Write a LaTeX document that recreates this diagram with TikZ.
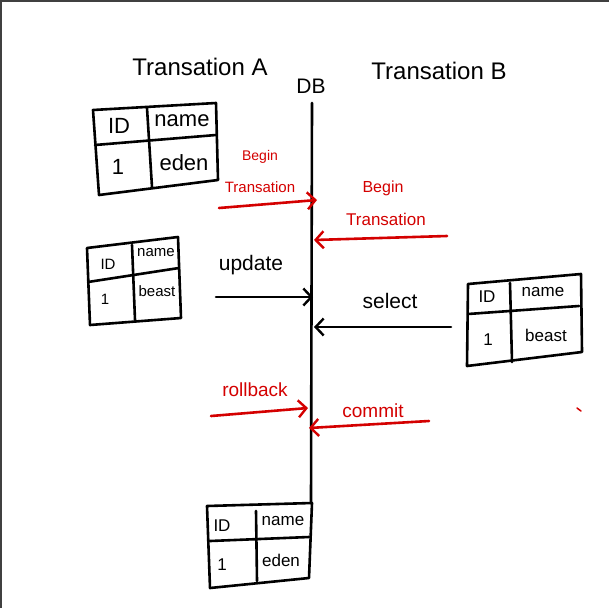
\documentclass[tikz,border=0pt]{standalone}
\usepackage{fontspec}
\setmainfont{Liberation Sans}
\usetikzlibrary{arrows.meta}
\definecolor{pen}{HTML}{D40000}
\tikzset{
  ink/.style={line width=2.6pt, line cap=round, line join=round},
  redink/.style={ink, draw=pen},
  arr/.style={-{Straight Barb[length=8pt,width=17pt,line width=2.4pt]}},
  lbl/.style={inner sep=0pt, anchor=center},
  redlbl/.style={lbl, text=pen},
  tbl/.style={ink}
}
\begin{document}
\begin{tikzpicture}[x=1pt,y=-1pt]
\useasboundingbox (0,0) rectangle (609,608);
\fill[white] (0,0) rectangle (609,608);
\draw[line width=1.5pt, draw=black!75] (0.75,608) -- (0.75,0.75) -- (609,0.75);

% headers
\node[lbl, font=\fontsize{24}{26}\selectfont] (ta) at (200,67) {Transation A};
\node[lbl, font=\fontsize{21}{23}\selectfont] (db) at (311,86) {DB};
\node[lbl, font=\fontsize{24}{26}\selectfont] (tb) at (439,71) {Transation B};

% DB line
\coordinate (dbtop) at (312,103);
\coordinate (dbbot) at (311,502);
\draw[ink] (dbtop) -- (dbbot);

% table 1
\draw[tbl] (93,110) -- (216,103) -- (218,180) -- (99,195) -- cycle;
\draw[tbl] (147,108) -- (152,187);
\draw[tbl] (95,145) -- (216,135);
\node[lbl, font=\fontsize{22}{24}\selectfont] (t1a) at (119,126) {ID};
\node[lbl, font=\fontsize{22}{24}\selectfont] (t1b) at (182,121) {name};
\node[lbl, font=\fontsize{22}{24}\selectfont] (t1c) at (118,167) {1};
\node[lbl, font=\fontsize{22}{24}\selectfont] (t1d) at (184,163) {eden};

% table 2
\draw[tbl] (87,248) -- (178,237) -- (181,318) -- (90,325) -- cycle;
\draw[tbl] (132,245) -- (135,320);
\draw[tbl] (88,282) -- (179,268);
\node[lbl, font=\fontsize{15}{17}\selectfont] (t2a) at (108,264) {ID};
\node[lbl, font=\fontsize{15}{17}\selectfont] (t2b) at (156,253) {name};
\node[lbl, font=\fontsize{15}{17}\selectfont] (t2c) at (105,299) {1};
\node[lbl, font=\fontsize{15}{17}\selectfont] (t2d) at (157,291) {beast};

% table 3
\draw[tbl] (468,284) -- (581,274) -- (582,352) -- (467,366) -- cycle;
\draw[tbl] (510,283) -- (512,362);
\draw[tbl] (468,314) -- (579,306);
\node[lbl, font=\fontsize{17}{19}\selectfont] (t3a) at (487,297) {ID};
\node[lbl, font=\fontsize{17}{19}\selectfont] (t3b) at (543,292) {name};
\node[lbl, font=\fontsize{17}{19}\selectfont] (t3c) at (488,340) {1};
\node[lbl, font=\fontsize{17}{19}\selectfont] (t3d) at (546,335) {beast};

% table 4
\draw[tbl] (207,506) -- (312,503) -- (309,578) -- (210,588) -- cycle;
\draw[tbl] (256,511) -- (257,581);
\draw[tbl] (210,541) -- (309,537);
\node[lbl, font=\fontsize{17}{19}\selectfont] (t4a) at (222,526) {ID};
\node[lbl, font=\fontsize{17}{19}\selectfont] (t4b) at (283,521) {name};
\node[lbl, font=\fontsize{17}{19}\selectfont] (t4c) at (222,565) {1};
\node[lbl, font=\fontsize{17}{19}\selectfont] (t4d) at (281,560) {eden};

% A: begin transation
\node[redlbl, font=\fontsize{14}{16}\selectfont] (abeg) at (260,157) {Begin};
\node[redlbl, font=\fontsize{15}{17}\selectfont] (atr) at (260,187) {Transation};
\coordinate (a1s) at (219,208);
\coordinate (a1e) at (317,200);
\draw[redink, arr] (a1s) -- (a1e);

% B: begin transation
\node[redlbl, font=\fontsize{16}{18}\selectfont] (bbeg) at (383,188) {Begin};
\node[redlbl, font=\fontsize{17}{19}\selectfont] (btr) at (386,219) {Transation};
\coordinate (b1s) at (447,236);
\coordinate (b1e) at (314,240);
\draw[redink, arr] (b1s) -- (b1e);

% update
\node[lbl, font=\fontsize{21}{23}\selectfont] (upd) at (251,265) {update};
\coordinate (ups) at (216,297);
\coordinate (upe) at (313,297);
\draw[ink, arr] (ups) -- (upe);

% select
\node[lbl, font=\fontsize{21}{23}\selectfont] (sel) at (390,301) {select};
\coordinate (ses) at (451,327);
\coordinate (see) at (314,327);
\draw[ink, arr] (ses) -- (see);

% rollback
\node[redlbl, font=\fontsize{19}{21}\selectfont] (rb) at (255,390) {rollback};
\coordinate (rbs) at (211,416);
\coordinate (rbe) at (308,408);
\draw[redink, arr] (rbs) -- (rbe);

% commit
\node[redlbl, font=\fontsize{19}{21}\selectfont] (cm) at (373,411) {commit};
\coordinate (cms) at (429,421);
\coordinate (cme) at (309,428);
\draw[redink, arr] (cms) -- (cme);

% stray red tick
\draw[draw=pen, line width=1.5pt, line cap=round] (577,408) -- (581,411);
\end{tikzpicture}
\end{document}
